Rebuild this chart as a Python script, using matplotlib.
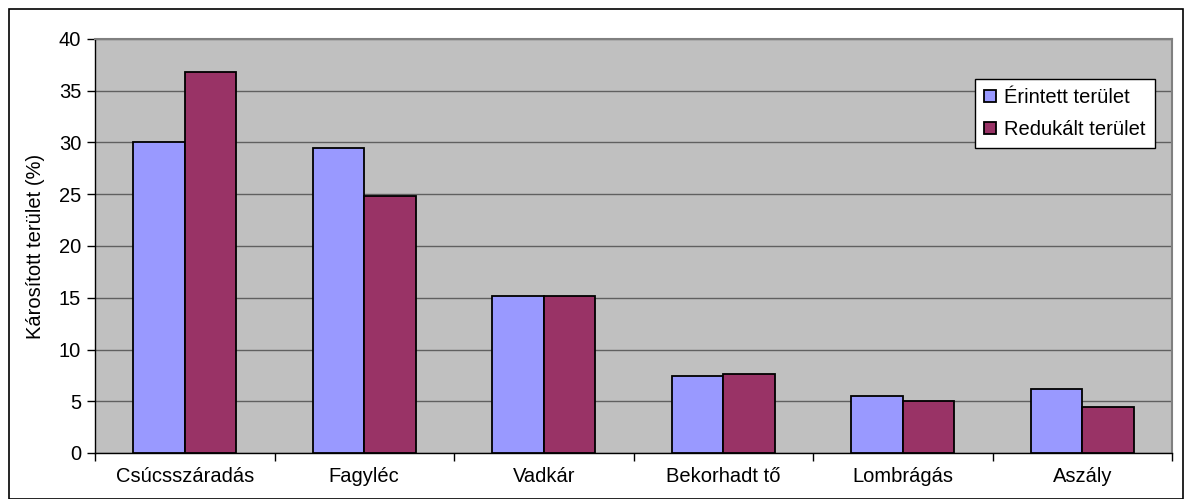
import matplotlib
matplotlib.use("Agg")
import matplotlib.pyplot as plt
import numpy as np
from matplotlib.patches import Rectangle

categories = ["Csúcsszáradás", "Fagyléc", "Vadkár", "Bekorhadt tő", "Lombrágás", "Aszály"]
erintett = [30.0, 29.5, 15.2, 7.4, 5.55, 6.2]
redukalt = [36.8, 24.8, 15.2, 7.6, 5.05, 4.45]
series_names = ["Érintett terület", "Redukált terület"]
yticks = [0, 5, 10, 15, 20, 25, 30, 35, 40]

plt.rcParams['font.family'] = ['Liberation Sans', 'DejaVu Sans']
FS = 14.5

fig = plt.figure(figsize=(11.88, 4.99), dpi=100)
ax = fig.add_axes([95/1188, 1-453/499, (1172-95)/1188, (453-39)/499])
ax.set_facecolor("#C0C0C0")

x = np.arange(len(categories))
w = 1/3.5
ax.bar(x - w/2, erintett, w, color="#9999FF", edgecolor="black", linewidth=1.3, label=series_names[0], zorder=3)
ax.bar(x + w/2, redukalt, w, color="#993366", edgecolor="black", linewidth=1.3, label=series_names[1], zorder=3)

ax.set_xlim(-0.5, len(categories) - 0.5)
ax.set_ylim(0, 40)
ax.set_yticks(yticks)
ax.set_yticklabels([str(t) for t in yticks], fontsize=FS)
ax.yaxis.grid(True, color="#606060", linewidth=1.0, zorder=0)
ax.set_axisbelow(True)

ax.set_xticks(x)
ax.set_xticklabels(categories, fontsize=FS)
ax.tick_params(axis='x', length=0, pad=10)
ax.set_xticks(np.arange(-0.5, len(categories)), minor=True)
ax.tick_params(axis='x', which='minor', length=6, width=1, color="black", direction='out')
ax.tick_params(axis='y', length=6, width=1, direction='out', pad=4)

for s in ["top", "right"]:
    ax.spines[s].set_color("#808080")
    ax.spines[s].set_linewidth(1.5)
for s in ["left", "bottom"]:
    ax.spines[s].set_color("black")
    ax.spines[s].set_linewidth(1.0)

ax.set_ylabel("Károsított terület (%)", fontsize=FS, labelpad=10)

leg = ax.legend(loc="upper left", bbox_to_anchor=((975-95)/(1172-95), 1-(79-39)/(453-39)),
                fontsize=FS, frameon=True, fancybox=False, edgecolor="black",
                handlelength=0.6, handleheight=0.6, handletextpad=0.4,
                borderpad=0.45, labelspacing=0.65, borderaxespad=0)
leg.get_frame().set_linewidth(1.0)
leg.get_frame().set_facecolor("white")
leg.get_frame().set_alpha(1)

fig.patches.append(Rectangle((9/1188, 0.5/499), (1183-9)/1188, (490-0.5)/499,
                             transform=fig.transFigure, fill=False, edgecolor="black", linewidth=1.2))

fig.savefig("out.png", dpi=100)
